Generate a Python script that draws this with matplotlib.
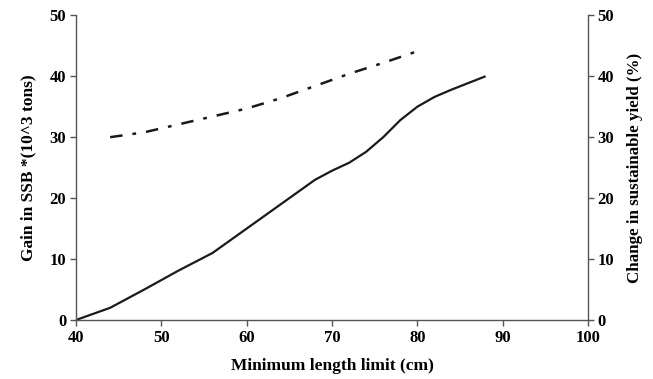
import matplotlib
matplotlib.use('Agg')
import matplotlib.pyplot as plt

# minimum length limit (cm)
ssb_x = [40, 44, 48, 52, 56, 60, 64, 68, 70, 72, 74, 76, 78, 80, 82, 84, 86, 88]
# gain in SSB (10^3 tons), left axis
ssb_gain = [0, 2, 5, 8.1, 11, 15, 19, 23, 24.5, 25.8, 27.6, 30, 32.8, 35, 36.6, 37.8, 38.9, 40]

yield_x = [44, 48, 52, 56, 60, 64, 68, 72, 76, 80]
# change in sustainable yield (%), right axis
yield_change = [30, 30.8, 32.1, 33.4, 34.7, 36.4, 38.4, 40.4, 42.2, 44.1]

x_ticks = [40, 50, 60, 70, 80, 90, 100]
y_ticks = [0, 10, 20, 30, 40, 50]

plt.rcParams['font.family'] = 'Liberation Serif'
plt.rcParams['font.weight'] = 'bold'
plt.rcParams['font.size'] = 12

fig = plt.figure(figsize=(6.53, 3.79), dpi=100)
ax = fig.add_axes([0.1164, 0.1557, 0.7841, 0.8039])
ax2 = ax.twinx()

ax.plot(ssb_x, ssb_gain, color='#1a1a1a', lw=1.6, solid_capstyle='butt')
ax2.plot(yield_x, yield_change, color='#1a1a1a', lw=1.8,
         linestyle=(0, (5, 4, 1.5, 4)))

ax.set_xlim(40, 100)
ax.set_ylim(0, 50)
ax2.set_ylim(0, 50)
ax.set_xticks(x_ticks)
ax.set_yticks(y_ticks)
ax2.set_yticks(y_ticks)

for a in (ax, ax2):
    a.spines['top'].set_visible(False)
    for s in a.spines.values():
        s.set_color('#555555')
        s.set_linewidth(1.0)
    a.tick_params(direction='out', length=4, width=1.0, color='#555555', pad=3,
                  labelsize=12)
ax.spines['right'].set_visible(False)
ax2.spines['left'].set_visible(False)
ax2.spines['bottom'].set_visible(False)

ax.set_xlabel('Minimum length limit (cm)', fontweight='bold', fontsize=12.5)
ax.set_ylabel('Gain in SSB *(10^3 tons)', fontweight='bold', fontsize=12.5)
ax2.set_ylabel('Change in sustainable yield (%)', fontweight='bold', fontsize=12.2)
ax.xaxis.set_label_coords(0.5, -0.125)
ax.yaxis.set_label_coords(-0.078, 0.5)
ax2.yaxis.set_label_coords(1.077, 0.5)

fig.savefig('out.png', dpi=100)
